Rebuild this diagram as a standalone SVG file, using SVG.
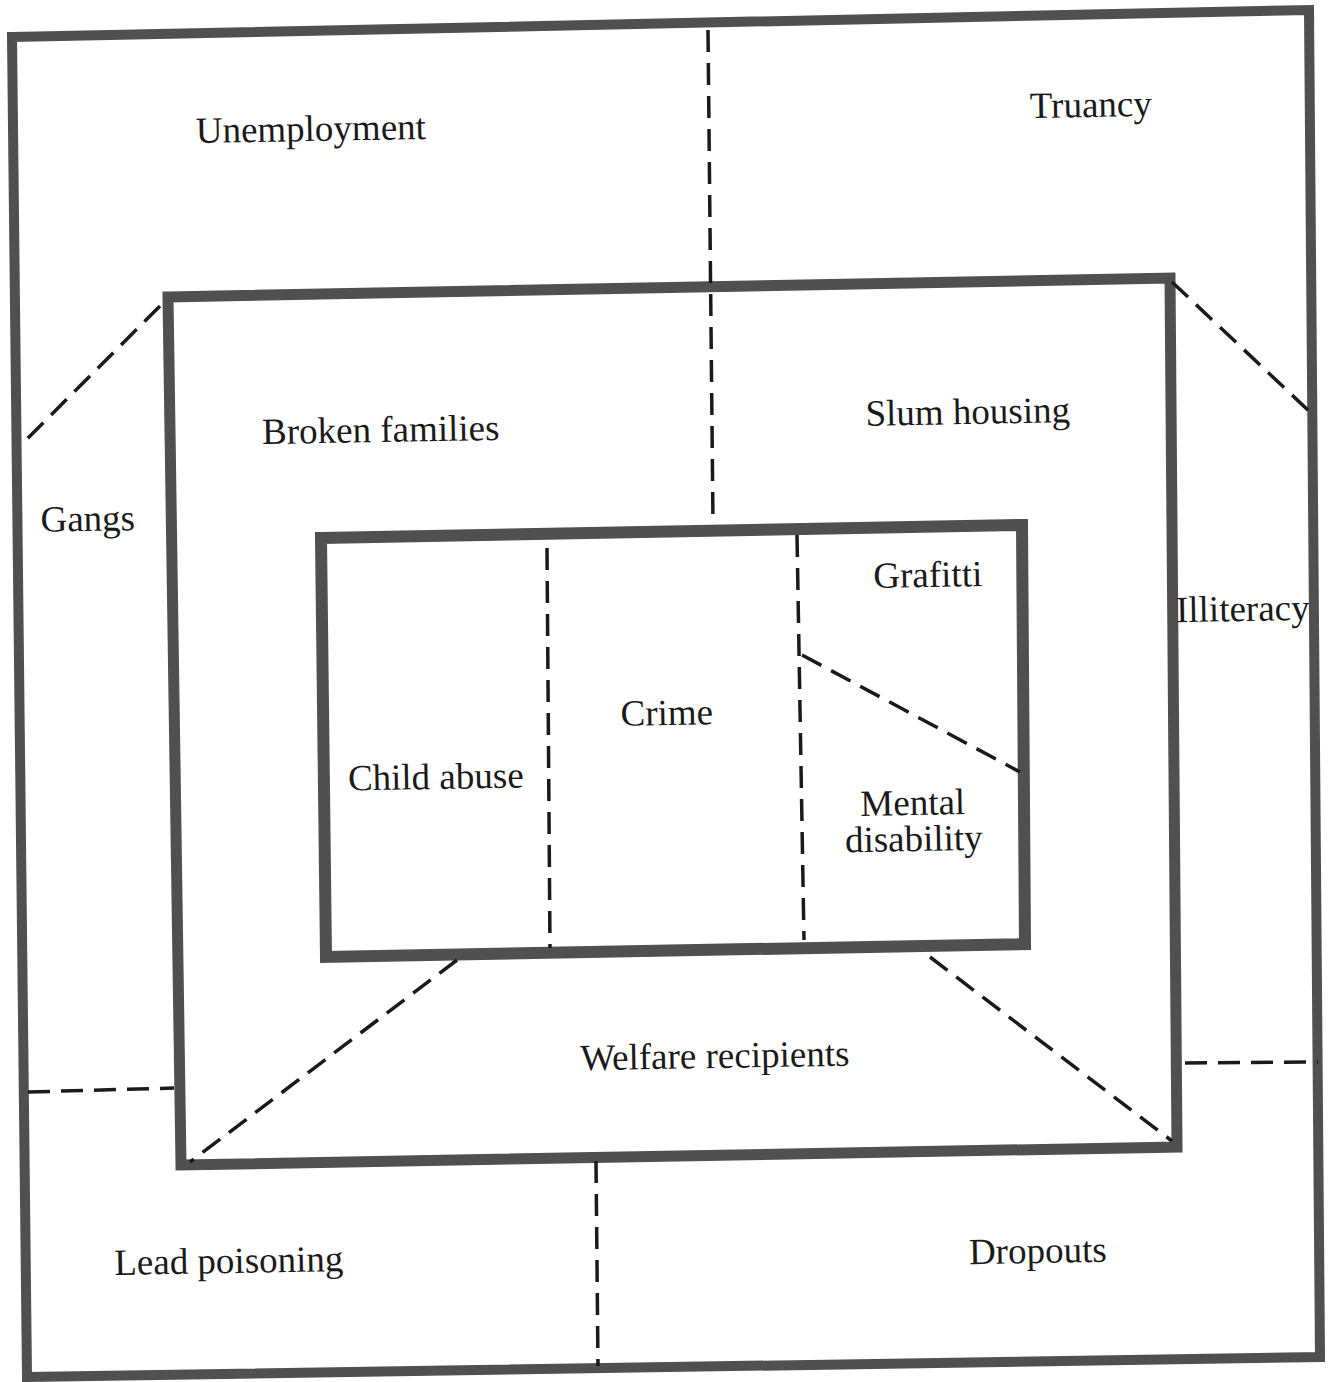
<svg xmlns="http://www.w3.org/2000/svg" width="1330" height="1382" viewBox="0 0 1330 1382">
<style>
.box{fill:none;stroke:#505050;stroke-linejoin:miter}
.dash{fill:none;stroke:#1a1a1a;stroke-width:3.5;stroke-dasharray:22 11}
text{font-family:"Liberation Serif","Times New Roman",serif;font-size:37px;fill:#1a1a1a;text-anchor:middle}
</style>
<rect width="1330" height="1382" fill="#fff"/>
<g id="outer-box"><polygon class="box" stroke-width="10" points="12,37 1309,10 1320,1357 27,1377"/></g>
<g id="middle-box"><polygon class="box" stroke-width="11" points="168,297 1170,278 1177,1147 181,1165"/></g>
<g id="inner-box"><polygon class="box" stroke-width="12" points="321,538 1022,525 1025,944 326,957"/></g>
<g id="connectors">
<line class="dash" x1="708" y1="30" x2="713" y2="523"/>
<line class="dash" x1="160" y1="306" x2="26" y2="440"/>
<line class="dash" x1="1172" y1="282" x2="1310" y2="412"/>
<line class="dash" x1="28" y1="1092" x2="174" y2="1088"/>
<line class="dash" x1="1185" y1="1063" x2="1318" y2="1062"/>
<line class="dash" x1="596" y1="1161" x2="598" y2="1366"/>
<line class="dash" x1="457" y1="960" x2="190" y2="1162"/>
<line class="dash" x1="930" y1="957" x2="1172" y2="1141"/>
<line class="dash" x1="547" y1="548" x2="550" y2="948"/>
<line class="dash" x1="797" y1="535" x2="804" y2="940"/>
<line class="dash" x1="802" y1="655" x2="1020" y2="772"/>
</g>
<g id="unemployment"><text x="311" y="141" transform="rotate(-1 311 141)">Unemployment</text></g>
<g id="truancy"><text x="1091" y="117" transform="rotate(-1 1091 117)">Truancy</text></g>
<g id="broken-families"><text x="381" y="442" transform="rotate(-1 381 442)">Broken families</text></g>
<g id="slum-housing"><text x="968" y="424" transform="rotate(-1 968 424)">Slum housing</text></g>
<g id="gangs"><text x="88" y="531" transform="rotate(-1 88 531)">Gangs</text></g>
<g id="illiteracy"><text x="1243" y="621" transform="rotate(-1 1243 621)">Illiteracy</text></g>
<g id="grafitti"><text x="928" y="587" transform="rotate(-1 928 587)">Grafitti</text></g>
<g id="crime"><text x="667" y="725" transform="rotate(-1 667 725)">Crime</text></g>
<g id="child-abuse"><text x="436" y="789" transform="rotate(-1 436 789)">Child abuse</text></g>
<g id="mental-disability"><text x="913" y="815" transform="rotate(-1 913 815)">Mental</text><text x="914" y="851" transform="rotate(-1 914 851)">disability</text></g>
<g id="welfare-recipients"><text x="715" y="1068" transform="rotate(-1 715 1068)">Welfare recipients</text></g>
<g id="lead-poisoning"><text x="229" y="1273" transform="rotate(-1 229 1273)">Lead poisoning</text></g>
<g id="dropouts"><text x="1038" y="1263" transform="rotate(-1 1038 1263)">Dropouts</text></g>
</svg>
